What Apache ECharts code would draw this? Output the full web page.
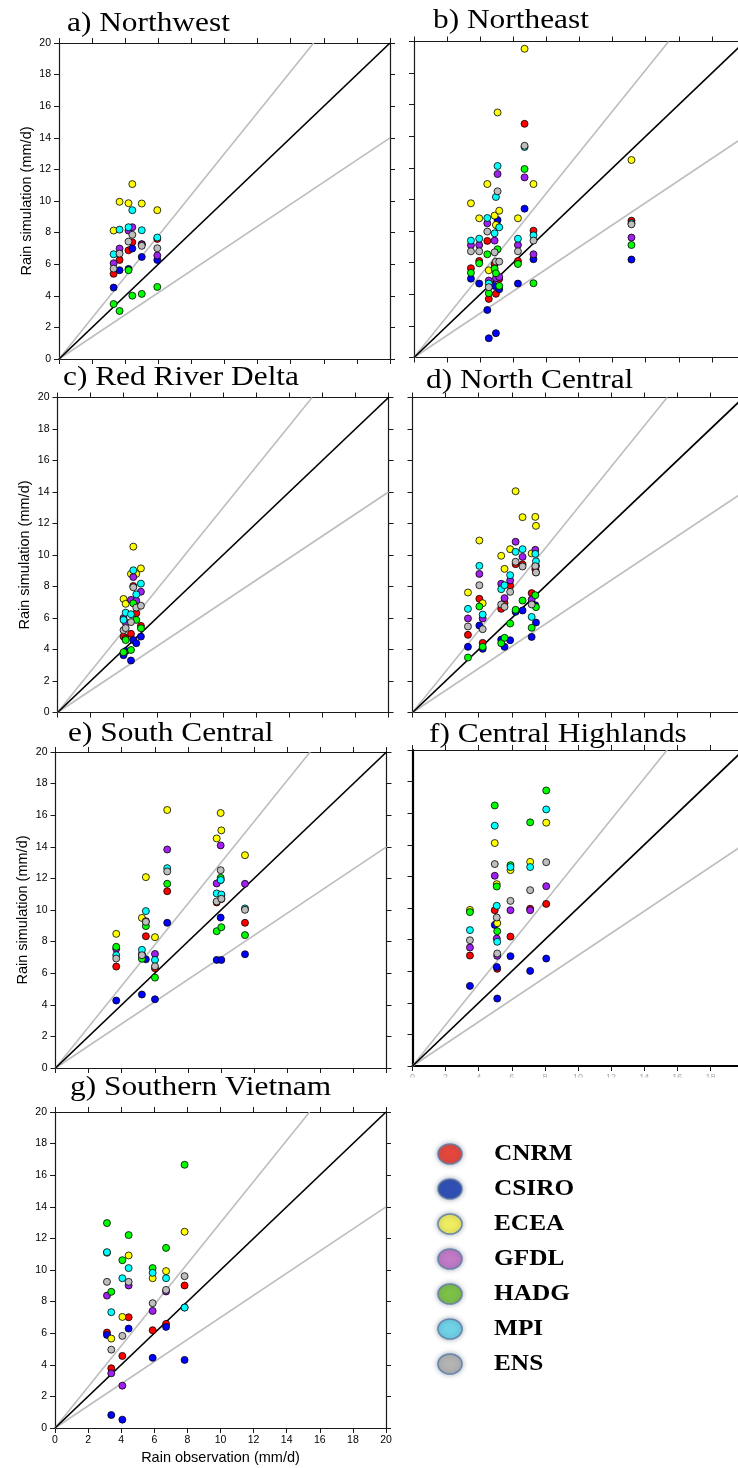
<!DOCTYPE html>
<html>
<head>
<meta charset="utf-8">
<script src="https://cdn.jsdelivr.net/npm/echarts@6/dist/echarts.min.js"></script>
<style>
  html, body { margin: 0; padding: 0; background: #fff; }
  #chart { width: 738px; height: 1468px; }
</style>
</head>
<body>
<div id="chart"></div>
<script>
// Models (legend order) and their marker colours
const models = ['CNRM', 'CSIRO', 'ECEA', 'GFDL', 'HADG', 'MPI', 'ENS'];
const markerColors = ['#ff0000', '#0000ff', '#ffff00', '#a020f0', '#00ff00', '#00ffff', '#bebebe'];
const legendColors = ['#e4463b', '#2f4fb3', '#efec5f', '#c279c6', '#7dc047', '#6fd2e6', '#b3b3b3'];

// Axis range and tick step (mm/d) shared by every panel
const axisMin = 0;
const axisMax = 20;
const tickStep = 2;

// Reference lines through the origin: +30 %, -30 %, 1:1
const refSlopes = [1.3, 0.7, 1.0];

// Each panel: observed rainfall per station, simulated rainfall per model (rows follow `models`)
const obsNorthwest = [3.30, 3.66, 4.20, 4.43, 5.00, 5.94];
const simNorthwest = [
  [5.39, 6.27, 6.88, 7.39, 7.27, 7.60],
  [4.52, 5.62, 5.70, 6.99, 6.46, 6.27],
  [8.13, 9.95, 9.86, 11.07, 9.84, 9.42],
  [6.06, 6.99, 8.13, 8.34, 7.25, 6.55],
  [3.48, 3.04, 5.62, 4.01, 4.12, 4.56],
  [6.63, 8.19, 8.34, 9.42, 8.15, 7.69],
  [5.72, 6.67, 7.43, 7.86, 7.16, 7.01]
];

const obsNortheast = [3.44, 3.94, 4.43, 4.52, 4.87, 4.95, 5.05, 5.15, 6.28, 6.68, 7.22, 13.14];
const simNortheast = [
  [5.65, 6.11, 7.38, 3.71, 5.90, 4.03, 8.32, 4.97, 6.11, 14.79, 8.03, 8.66],
  [4.99, 4.68, 3.01, 1.22, 4.53, 1.54, 8.70, 4.32, 4.68, 9.42, 6.22, 6.20],
  [9.76, 8.81, 10.98, 5.52, 8.98, 8.39, 15.51, 9.29, 8.81, 19.54, 10.98, 12.50],
  [7.11, 7.12, 8.49, 4.87, 7.40, 5.02, 11.61, 5.10, 7.12, 11.40, 6.53, 7.59],
  [5.36, 5.96, 6.53, 4.07, 5.63, 5.33, 6.85, 4.53, 5.92, 11.93, 4.70, 7.12],
  [7.40, 7.52, 8.83, 4.68, 7.86, 10.16, 12.12, 8.24, 7.52, 13.32, 7.73, 8.50],
  [6.72, 6.72, 7.97, 4.45, 6.66, 6.07, 10.52, 6.07, 6.72, 13.40, 7.40, 8.43]
];

const obsRedRiverDelta = [3.99, 4.12, 4.44, 4.58, 4.76, 5.04];
const simRedRiverDelta = [
  [4.82, 4.70, 5.00, 8.03, 6.30, 5.50],
  [3.64, 3.90, 3.30, 4.60, 4.40, 4.82],
  [7.21, 6.90, 8.80, 10.53, 8.80, 9.15],
  [6.00, 5.70, 7.15, 8.60, 7.10, 7.67],
  [3.83, 4.60, 3.97, 6.93, 5.88, 5.35],
  [5.88, 6.34, 6.24, 9.03, 7.50, 8.18],
  [5.23, 5.36, 5.74, 7.95, 6.66, 6.78]
];

const obsNorthCentral = [3.35, 4.04, 4.24, 5.36, 5.56, 5.90, 6.23, 6.65, 7.20, 7.42, 7.46];
const simNorthCentral = [
  [4.93, 7.22, 4.42, 6.58, 6.96, 8.06, 9.42, 9.40, 7.58, 9.10, 8.90],
  [4.17, 5.52, 4.04, 4.63, 4.17, 4.59, 6.39, 6.48, 4.80, 6.81, 5.71],
  [7.62, 10.92, 6.94, 9.95, 9.12, 10.37, 14.05, 12.40, 10.10, 12.42, 11.85],
  [5.97, 8.80, 5.97, 8.17, 7.26, 8.38, 10.84, 9.88, 7.17, 10.33, 9.30],
  [3.49, 6.73, 4.17, 4.40, 4.74, 5.65, 6.52, 7.11, 5.38, 7.45, 6.69],
  [6.58, 9.31, 6.22, 7.83, 8.08, 8.72, 10.20, 10.37, 6.07, 10.07, 9.60],
  [5.46, 8.08, 5.29, 6.86, 6.71, 7.66, 9.57, 9.27, 6.86, 9.29, 8.89]
];

const obsSouthCentral = [3.67, 5.22, 5.46, 6.01, 6.75, 9.74, 9.98, 10.02, 11.45];
const simSouthCentral = [
  [6.42, 7.10, 8.34, 6.31, 11.19, 10.48, 11.90, 10.70, 9.19],
  [4.27, 4.65, 6.88, 4.35, 9.19, 6.84, 9.52, 6.84, 7.20],
  [8.49, 9.50, 12.08, 8.28, 16.33, 14.53, 16.14, 15.04, 13.47],
  [7.54, 7.20, 9.29, 7.22, 13.83, 11.68, 14.09, 10.95, 11.66],
  [7.67, 6.91, 8.98, 5.72, 11.66, 8.66, 12.04, 8.91, 8.41],
  [7.14, 7.48, 9.93, 6.84, 12.65, 11.05, 11.90, 10.98, 10.10],
  [6.93, 7.14, 9.25, 6.44, 12.44, 10.54, 12.52, 10.71, 10.01]
];

const obsCentralHighlands = [3.47, 4.97, 5.09, 5.12, 5.92, 7.11, 8.08];
const simCentralHighlands = [
  [6.99, 9.86, 9.04, 6.15, 8.19, 9.95, 10.26],
  [5.07, 8.93, 6.27, 4.27, 6.95, 6.02, 6.80],
  [9.88, 14.11, 11.51, 9.04, 12.40, 12.92, 15.40],
  [7.50, 12.04, 8.07, 6.97, 9.86, 9.86, 11.38],
  [9.74, 16.49, 11.36, 8.53, 12.71, 15.42, 17.44],
  [8.60, 15.21, 10.14, 7.86, 12.59, 12.59, 16.24],
  [7.96, 12.78, 9.40, 7.12, 10.45, 11.13, 12.90]
];

const obsSouthernVietnam = [3.14, 3.40, 4.07, 4.45, 5.90, 6.71, 7.83];
const simSouthernVietnam = [
  [6.04, 3.78, 4.56, 7.01, 6.19, 6.59, 9.02],
  [5.89, 0.82, 0.53, 6.29, 4.44, 6.40, 4.31],
  [11.09, 5.66, 7.03, 10.92, 9.48, 9.93, 12.42],
  [8.38, 3.46, 2.68, 9.02, 7.41, 8.64, 7.63],
  [12.97, 8.62, 10.62, 12.21, 10.12, 11.40, 16.66],
  [11.13, 7.33, 9.48, 10.12, 9.82, 9.48, 7.62],
  [9.25, 4.96, 5.83, 9.25, 7.90, 8.74, 9.61]
];

const regionTitles = ['a) Northwest', 'b) Northeast', 'c) Red River Delta', 'd) North Central',
  'e) South Central', 'f) Central Highlands', 'g) Southern Vietnam'];
const yTitle = 'Rain simulation (mm/d)';
const xTitle = 'Rain observation (mm/d)';

const SANS = '"Liberation Sans", Arial, Helvetica, sans-serif';
const SERIF = '"Liberation Serif", "Times New Roman", Times, serif';

// Panel placement (pixels) and which labels each panel carries;
// the right-hand column runs past the page edge and is cut there
const panels = [
  { obs: obsNorthwest, sim: simNorthwest, box: [59, 43, 331, 316], t: [67, 24], yLab: true, yName: true },
  { obs: obsNortheast, sim: simNortheast, box: [414, 41.5, 331, 316], t: [433, 21] },
  { obs: obsRedRiverDelta, sim: simRedRiverDelta, box: [57.5, 397.5, 331, 315], t: [63, 378], yLab: true, yName: true },
  { obs: obsNorthCentral, sim: simNorthCentral, box: [412.5, 397.5, 331, 315], t: [426, 381] },
  { obs: obsSouthCentral, sim: simSouthCentral, box: [55.5, 752, 331, 316], t: [68, 734], yLab: true, yName: true },
  { obs: obsCentralHighlands, sim: simCentralHighlands, box: [412.5, 750, 331, 316], t: [429, 735], faintX: true, heavy: true },
  { obs: obsSouthernVietnam, sim: simSouthernVietnam, box: [55, 1112, 331, 316], t: [70, 1088], yLab: true, xLab: true, xName: true }
];

const grids = [], xAxes = [], yAxes = [], series = [], graphics = [];

function baseAxis(extra) {
  return Object.assign({
    type: 'value', min: axisMin, max: axisMax, interval: tickStep,
    splitLine: { show: false },
    axisLine: { show: true, onZero: false, lineStyle: { color: '#1a1a1a', width: 1.2 } },
    axisTick: { show: true, inside: false, length: 5, lineStyle: { color: '#1a1a1a', width: 1 } },
    axisLabel: { show: false }
  }, extra);
}

panels.forEach((p, i) => {
  const [left, top, width, height] = p.box;
  grids.push({ left, top, width, height, containLabel: false, outerBoundsMode: 'none', show: false });
  const heavyLine = p.heavy ? { show: true, onZero: false, lineStyle: { color: '#000', width: 2.2 } } : undefined;

  // bottom + top x axes
  const bottom = baseAxis({
    gridIndex: i, position: 'bottom',
    axisLabel: {
      show: !!(p.xLab || p.faintX), margin: 7,
      color: p.faintX ? '#a8a8a8' : '#000', fontSize: p.faintX ? 9 : 10.5, fontFamily: SANS
    }
  });
  if (heavyLine) bottom.axisLine = heavyLine;
  if (p.xName) {
    Object.assign(bottom, {
      name: xTitle, nameLocation: 'middle', nameGap: 22,
      nameTextStyle: { fontSize: 14.5, color: '#000', fontFamily: SANS }
    });
  }
  xAxes.push(bottom);
  xAxes.push(baseAxis({ gridIndex: i, position: 'top' }));

  // left + right y axes
  const leftAxis = baseAxis({
    gridIndex: i, position: 'left',
    axisLabel: { show: !!p.yLab, margin: 8, color: '#000', fontSize: 10.5, fontFamily: SANS }
  });
  if (heavyLine) leftAxis.axisLine = heavyLine;
  if (p.yName) {
    Object.assign(leftAxis, {
      name: yTitle, nameLocation: 'middle', nameGap: 25,
      nameTextStyle: { fontSize: 14.5, color: '#000', fontFamily: SANS }
    });
  }
  yAxes.push(leftAxis);
  yAxes.push(baseAxis({ gridIndex: i, position: 'right' }));

  // reference lines
  refSlopes.forEach(s => {
    const end = s >= 1 ? [axisMax / s, axisMax] : [axisMax, axisMax * s];
    series.push({
      type: 'line', xAxisIndex: 2 * i, yAxisIndex: 2 * i, silent: true,
      showSymbol: false, symbol: 'none', clip: true,
      data: [[0, 0], end],
      lineStyle: { color: s === 1 ? '#000' : '#bdbdbd', width: s === 1 ? 1.7 : 1.6 },
      z: 2
    });
  });

  // model points
  models.forEach((m, k) => {
    series.push({
      name: m, type: 'scatter', xAxisIndex: 2 * i, yAxisIndex: 2 * i,
      symbol: 'circle', symbolSize: 7,
      data: p.obs.map((x, j) => [x, p.sim[k][j]]),
      itemStyle: { color: markerColors[k], borderColor: '#000', borderWidth: 0.8, opacity: 1 },
      z: 3
    });
  });

  // panel title
  graphics.push({
    type: 'text', x: p.t[0], y: p.t[1], scaleX: 1.12, z: 50,
    style: {
      text: regionTitles[i], font: '28px ' + SERIF, fill: '#000',
      align: 'left', verticalAlign: 'middle', textAlign: 'left', textVerticalAlign: 'middle'
    }
  });
});

// the lower part of the Central Highlands tick labels is hidden
graphics.push({
  type: 'rect', z: 100,
  shape: { x: 398, y: 1077.5, width: 340, height: 24 },
  style: { fill: '#fff' }
});

// legend
models.forEach((m, k) => {
  const cy = 1154 + k * 35;
  graphics.push({
    type: 'ellipse', z: 60,
    shape: { cx: 450, cy, rx: 12, ry: 10 },
    style: {
      fill: legendColors[k], stroke: 'rgba(95,125,165,0.85)', lineWidth: 1.6,
      shadowBlur: 5, shadowColor: 'rgba(70,90,120,0.5)'
    }
  });
  graphics.push({
    type: 'text', x: 494, y: cy, scaleX: 1.1, z: 60,
    style: {
      text: m, font: 'bold 23px ' + SERIF, fill: '#000',
      align: 'left', verticalAlign: 'middle', textAlign: 'left', textVerticalAlign: 'middle'
    }
  });
});

const chart = echarts.init(document.getElementById('chart'), null, { renderer: 'canvas' });
chart.setOption({
  animation: false,
  backgroundColor: '#fff',
  textStyle: { fontFamily: SANS },
  grid: grids,
  xAxis: xAxes,
  yAxis: yAxes,
  series,
  graphic: { elements: graphics }
});
</script>
</body>
</html>
